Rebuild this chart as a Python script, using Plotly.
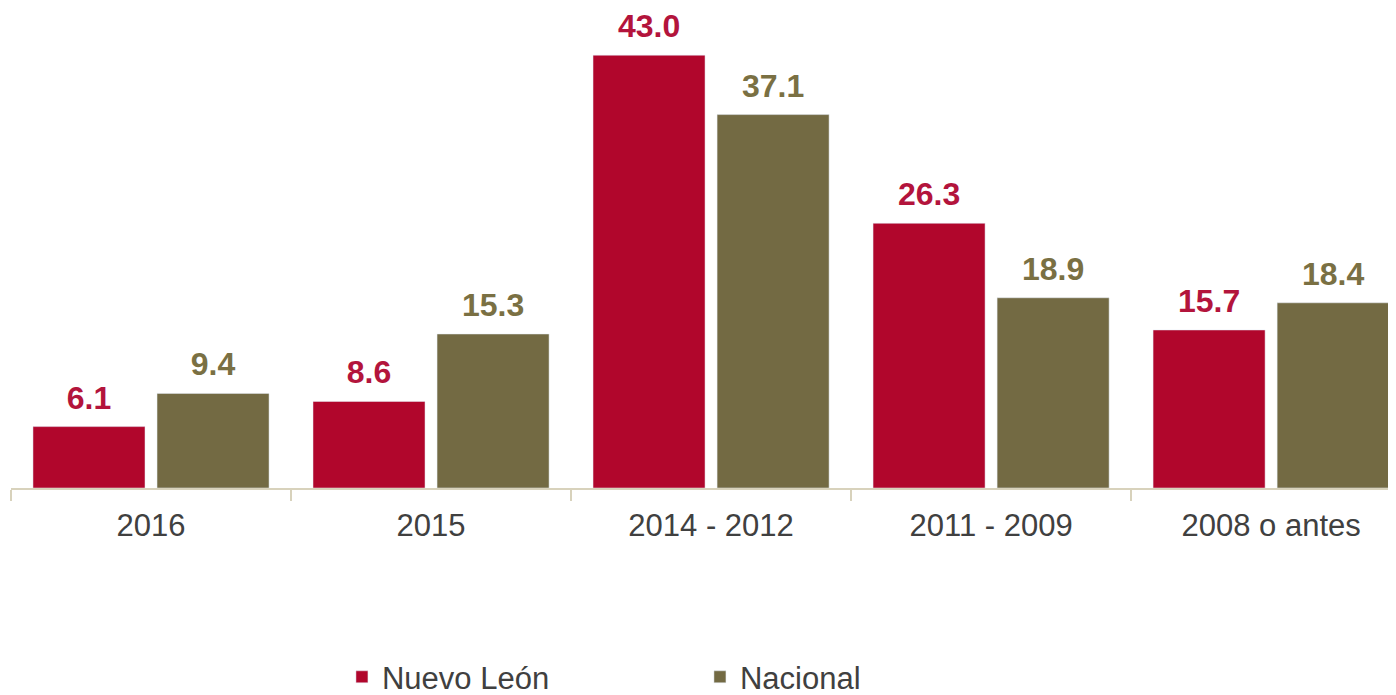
import plotly.graph_objects as go

categories = ["2016", "2015", "2014 - 2012", "2011 - 2009", "2008 o antes"]
nuevo_leon = [6.1, 8.6, 43.0, 26.3, 15.7]
nacional = [9.4, 15.3, 37.1, 18.9, 18.4]

RED = "#B1062C"
OLIVE = "#736A43"
FONT = "Liberation Sans, Arial, sans-serif"

# small trailing line lifts the label a bit above the bar
label_tpl = "<span style='font-size:32px'><b>%{y:.1f}</b></span><br> "

fig = go.Figure()
fig.add_trace(
    go.Bar(
        x=categories,
        y=nuevo_leon,
        name="Nuevo León",
        marker={"color": RED},
        texttemplate=label_tpl,
        textposition="outside",
        textfont={"color": "#B3143C", "size": 10, "family": FONT},
        cliponaxis=False,
    )
)
fig.add_trace(
    go.Bar(
        x=categories,
        y=nacional,
        name="Nacional",
        marker={"color": OLIVE},
        texttemplate=label_tpl,
        textposition="outside",
        textfont={"color": "#7A7043", "size": 10, "family": FONT},
        cliponaxis=False,
    )
)

fig.update_layout(
    width=1388,
    height=687,
    barmode="group",
    bargap=0.114,
    bargroupgap=0.097,
    plot_bgcolor="white",
    paper_bgcolor="white",
    font={"family": FONT, "color": "#404040"},
    margin={"l": 3, "r": 0, "t": 17, "b": 207},
    showlegend=True,
    legend={
        "orientation": "h",
        "xref": "container",
        "yref": "container",
        "x": 0.2406,
        "xanchor": "left",
        "y": 0.026,
        "yanchor": "middle",
        "entrywidth": 313,
        "font": {"size": 31, "color": "#404040"},
    },
)
fig.update_xaxes(
    range=[-0.5, 4.446],
    showline=True,
    linecolor="#D8D2BC",
    linewidth=2,
    ticks="outside",
    tickson="boundaries",
    ticklen=11,
    tickcolor="#D8D2BC",
    tickwidth=2,
    ticklabelstandoff=9,
    tickfont={"size": 31, "color": "#404040"},
    showgrid=False,
)
fig.update_yaxes(range=[0, 46], visible=False, showgrid=False)

fig.write_html("out.html")
